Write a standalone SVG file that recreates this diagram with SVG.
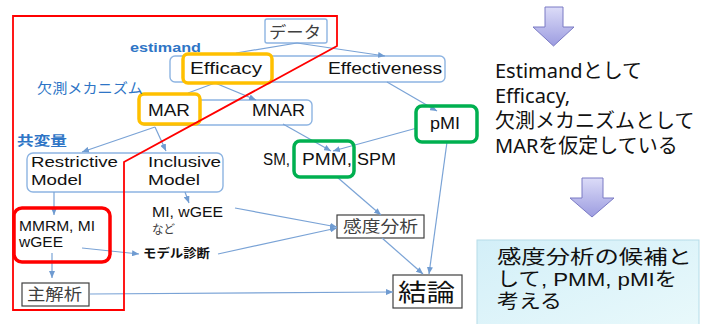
<svg xmlns="http://www.w3.org/2000/svg" width="704" height="324" viewBox="0 0 704 324">
<defs>
<marker id="ah" markerUnits="userSpaceOnUse" markerWidth="8" markerHeight="6" refX="7" refY="3" orient="auto">
<path d="M0,0 L7,3 L0,6 z" fill="#6f9bd1"/>
</marker>
<linearGradient id="lav" x1="0" y1="0" x2="0" y2="1">
<stop offset="0" stop-color="#dcdcf8"/>
<stop offset="1" stop-color="#9c9ce0"/>
</linearGradient>
<linearGradient id="cy" x1="0" y1="0" x2="1" y2="1">
<stop offset="0" stop-color="#d3eff8"/>
<stop offset="1" stop-color="#e9f9fb"/>
</linearGradient>
</defs>
<style>
text{font-family:"Liberation Sans","Noto Sans CJK JP",sans-serif;fill:#111}
.bb{fill:#fff;stroke:#8db4e2;stroke-width:1.4}
.kb{fill:#fff;stroke:#404040;stroke-width:1.2}
.or{fill:#fff;stroke:#ffc000;stroke-width:3.5}
.gr{fill:none;stroke:#00b050;stroke-width:3.5}
.rd{fill:none;stroke:#ff0000;stroke-width:3.5}
.c{fill:none;stroke:#7aa3d6;stroke-width:1.2}
.blue{fill:#2e75c6;font-weight:bold}
.bl{fill:#2e75c6}
.gray{fill:#404040}
.jp{font-family:"Noto Sans CJK JP",sans-serif}
.r{font-family:"Noto Sans","Noto Sans CJK JP",sans-serif;font-size:20px;fill:#111}
.r2{font-family:"Liberation Sans","Noto Sans CJK JP",sans-serif;font-size:19px;fill:#111}
.la{fill:url(#lav);stroke:#7a7ac4;stroke-width:1}
</style>

<g id="boxes">
<g id="data"><rect class="bb" x="265" y="19" width="62" height="24" rx="2"/><text class="jp gray" x="269" y="38" font-size="16" textLength="52" lengthAdjust="spacingAndGlyphs">データ</text></g>
<g id="estimand-box"><rect class="bb" x="170" y="56" width="275" height="26" rx="5"/></g>
<g id="mech-box"><rect class="bb" x="140" y="100" width="172" height="25" rx="5"/></g>
<g id="cov-box"><rect class="bb" x="27" y="153" width="196" height="39" rx="6"/></g>
<g id="main"><rect class="kb" x="22" y="283" width="67" height="23"/><text class="jp gray" x="27" y="300" font-size="16" textLength="55" lengthAdjust="spacingAndGlyphs">主解析</text></g>
<g id="sens"><rect class="kb" x="337" y="215" width="87" height="23"/><text class="jp gray" x="343" y="232" font-size="16" textLength="75" lengthAdjust="spacingAndGlyphs">感度分析</text></g>
<g id="concl"><rect class="kb" x="393" y="275" width="69" height="33"/><text class="jp" x="398" y="301" font-size="24" fill="#000" textLength="57" lengthAdjust="spacingAndGlyphs">結論</text></g>
</g>

<g id="connectors">
<path class="c" d="M297,43 L236,53"/>
<path class="c" d="M297,43 L385,56" marker-end="url(#ah)"/>
<path class="c" d="M215,83 L188,93"/>
<path class="c" d="M215,83 L256,100" marker-end="url(#ah)"/>
<path class="c" d="M155,127 L82,152" marker-end="url(#ah)"/>
<path class="c" d="M155,127 L166,151" marker-end="url(#ah)"/>
<path class="c" d="M387,82 L437,111" marker-end="url(#ah)"/>
<path class="c" d="M283,124 L331,151" marker-end="url(#ah)"/>
<path class="c" d="M417,128 L333,151" marker-end="url(#ah)"/>
<path class="c" d="M54,192 L54,215" marker-end="url(#ah)"/>
<path class="c" d="M185,192 L189,203" marker-end="url(#ah)"/>
<path class="c" d="M337,177 L381,215" marker-end="url(#ah)"/>
<path class="c" d="M447,142 L429,274" marker-end="url(#ah)"/>
<path class="c" d="M235,208 L337,227" marker-end="url(#ah)"/>
<path class="c" d="M82,248 L139,254" marker-end="url(#ah)"/>
<path class="c" d="M218,254 L337,228" marker-end="url(#ah)"/>
<path class="c" d="M52,253 L52,278" marker-end="url(#ah)"/>
<path class="c" d="M90,294 L393,292" marker-end="url(#ah)"/>
<path class="c" d="M382,238 L423,274" marker-end="url(#ah)"/>
</g>

<g id="highlights">
<rect id="efficacy" class="or" x="183" y="54" width="89" height="29" rx="5"/>
<rect id="mar" class="or" x="139" y="94" width="61" height="30" rx="5"/>
<rect id="pmm" class="gr" x="294" y="141" width="60" height="36" rx="6"/>
<rect id="pmi" class="gr" x="416" y="106" width="61" height="36" rx="6"/>
<rect id="mmrm" class="rd" x="14" y="208" width="96" height="54" rx="8"/>
</g>

<g id="labels">
<text class="blue" x="130" y="52" font-size="13" textLength="71" lengthAdjust="spacingAndGlyphs">estimand</text>
<text x="190" y="74" font-size="16" textLength="72" lengthAdjust="spacingAndGlyphs">Efficacy</text>
<text x="328" y="74" font-size="16" textLength="114" lengthAdjust="spacingAndGlyphs">Effectiveness</text>
<text class="jp bl" x="37" y="93" font-size="14" textLength="106" lengthAdjust="spacingAndGlyphs">欠測メカニズム</text>
<text x="148" y="116" font-size="16" textLength="42" lengthAdjust="spacingAndGlyphs">MAR</text>
<text x="252" y="116" font-size="16" textLength="53" lengthAdjust="spacingAndGlyphs">MNAR</text>
<text class="blue jp" x="17" y="145" font-size="13" textLength="50" lengthAdjust="spacingAndGlyphs">共変量</text>
<text x="31" y="167" font-size="15.5" textLength="87" lengthAdjust="spacingAndGlyphs">Restrictive</text>
<text x="31" y="185" font-size="15.5" textLength="51" lengthAdjust="spacingAndGlyphs">Model</text>
<text x="148" y="167" font-size="15.5" textLength="73" lengthAdjust="spacingAndGlyphs">Inclusive</text>
<text x="148" y="185" font-size="15.5" textLength="52" lengthAdjust="spacingAndGlyphs">Model</text>
<text x="263" y="165" font-size="16" textLength="27" lengthAdjust="spacingAndGlyphs">SM,</text>
<text x="302" y="165" font-size="16" textLength="50" lengthAdjust="spacingAndGlyphs">PMM,</text>
<text x="357" y="165" font-size="16" textLength="39" lengthAdjust="spacingAndGlyphs">SPM</text>
<text x="430" y="129" font-size="17" textLength="30" lengthAdjust="spacingAndGlyphs">pMI</text>
<text x="19" y="231" font-size="15" textLength="76" lengthAdjust="spacingAndGlyphs">MMRM, MI</text>
<text x="19" y="247" font-size="15" textLength="44" lengthAdjust="spacingAndGlyphs">wGEE</text>
<text x="152" y="217" font-size="14.5" textLength="71" lengthAdjust="spacingAndGlyphs">MI, wGEE</text>
<text class="jp gray" x="152" y="234" font-size="12.5" textLength="23" lengthAdjust="spacingAndGlyphs">など</text>
<text class="jp" x="143" y="258" font-size="12" font-weight="bold" textLength="67" lengthAdjust="spacingAndGlyphs">モデル診断</text>
</g>

<polygon id="scope" points="13,16 337,16 337,46 124,162 124,310 13,310" fill="none" stroke="#ff0000" stroke-width="1.8"/>

<g id="side">
<polygon class="la" points="545,7 563,7 563,27 574,27 553.5,46 533,27 545,27"/>
<text class="r" x="495" y="78">Estimandとして</text>
<text class="r" x="495" y="103">Efficacy,</text>
<text class="r" x="495" y="128">欠測メカニズムとして</text>
<text class="r" x="495" y="153">MARを仮定している</text>
<polygon class="la" points="582,178 603,178 603,198 614,198 592,217 570,198 582,198"/>
<rect x="477" y="240" width="222" height="90" fill="url(#cy)" stroke="#b5dce8" stroke-width="1"/>
<text class="r2" x="497" y="264" textLength="195" lengthAdjust="spacingAndGlyphs">感度分析の候補と</text>
<text class="r2" x="497" y="286" textLength="180" lengthAdjust="spacingAndGlyphs">して, PMM, pMIを</text>
<text class="r2" x="497" y="308" textLength="65" lengthAdjust="spacingAndGlyphs">考える</text>
</g>
</svg>
